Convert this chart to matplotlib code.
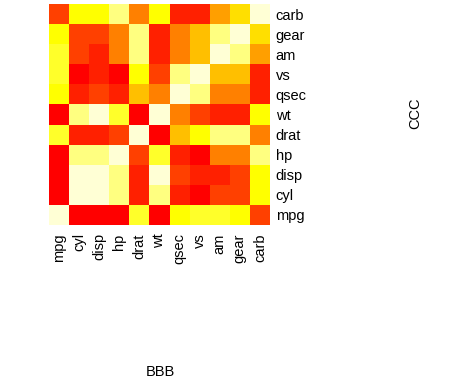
import matplotlib
matplotlib.use('Agg')
import matplotlib.pyplot as plt
import numpy as np
from matplotlib.colors import ListedColormap

plt.rcParams['font.family'] = ['Liberation Sans', 'DejaVu Sans']

# variaveis (colunas da esquerda p/ direita, linhas de baixo p/ cima)
variaveis = ['mpg', 'cyl', 'disp', 'hp', 'drat', 'wt', 'qsec', 'vs', 'am', 'gear', 'carb']

# paleta heat.colors(12) do R
cores = ['#FF0000', '#FF2000', '#FF4000', '#FF6000', '#FF8000', '#FF9F00',
         '#FFBF00', '#FFDF00', '#FFFF00', '#FFFF2A', '#FFFF80', '#FFFFD5']

# nivel de cor (0..11) de cada celula; linha i = variavel i (de baixo p/ cima)
niveis_mpg  = [11, 0, 0, 0, 9, 0, 8, 9, 9, 8, 2]
niveis_cyl  = [0, 11, 11, 10, 1, 10, 1, 0, 2, 2, 8]
niveis_disp = [0, 11, 11, 10, 1, 11, 2, 1, 1, 2, 8]
niveis_hp   = [0, 10, 10, 11, 2, 9, 1, 0, 4, 4, 10]
niveis_drat = [9, 1, 1, 2, 11, 0, 6, 8, 10, 10, 4]
niveis_wt   = [0, 10, 11, 9, 0, 11, 4, 2, 1, 1, 8]
niveis_qsec = [8, 1, 2, 1, 6, 4, 11, 10, 4, 4, 1]
niveis_vs   = [9, 0, 1, 0, 8, 2, 10, 11, 6, 6, 1]
niveis_am   = [9, 2, 1, 4, 10, 1, 4, 6, 11, 10, 5]
niveis_gear = [8, 2, 2, 4, 10, 1, 4, 6, 10, 11, 7]
niveis_carb = [2, 8, 8, 10, 4, 8, 1, 1, 5, 7, 11]

matriz = np.array([niveis_mpg, niveis_cyl, niveis_disp, niveis_hp, niveis_drat,
                   niveis_wt, niveis_qsec, niveis_vs, niveis_am, niveis_gear, niveis_carb])

fig = plt.figure(figsize=(4.75, 3.85), dpi=100)
ax = fig.add_axes([49/475, 1 - 225/385, 221/475, 221/385])

n = len(variaveis)
ax.pcolormesh(np.arange(n + 1), np.arange(n + 1), matriz,
              cmap=ListedColormap(cores), vmin=-0.5, vmax=11.5)
ax.set_xlim(0, n)
ax.set_ylim(0, n)

ax.set_xticks(np.arange(n) + 0.5)
ax.set_xticklabels(variaveis, rotation=90, fontsize=10.5)
ax.set_yticks(np.arange(n) + 0.5)
ax.set_yticklabels(variaveis, fontsize=10.5)
ax.yaxis.tick_right()
ax.tick_params(axis='x', length=0, pad=6)
ax.tick_params(axis='y', length=0, pad=4)
for lado in ax.spines.values():
    lado.set_visible(False)

fig.text(160/475, 1 - 372/385, 'BBB', ha='center', va='center', fontsize=10.5)
fig.text(415/475, 1 - 113/385, 'CCC', ha='center', va='center', rotation=90, fontsize=10.5)

fig.savefig('out.png', dpi=100)
